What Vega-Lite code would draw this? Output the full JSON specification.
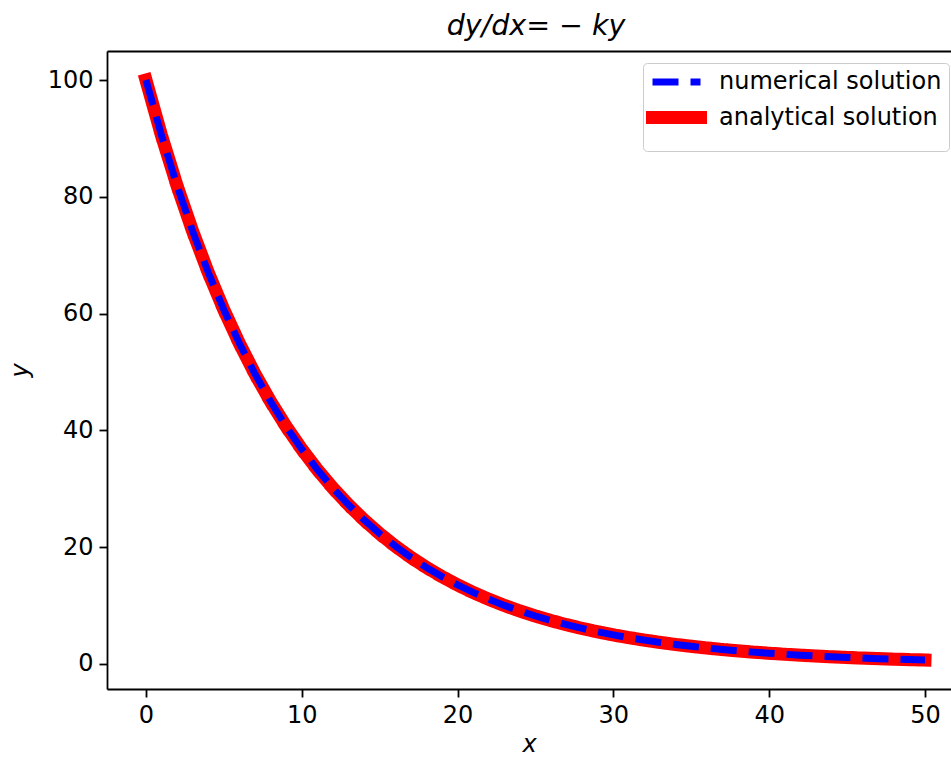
{
  "$schema": "https://vega.github.io/schema/vega-lite/v6.json",
  "width": 844,
  "height": 638,
  "autosize": {"type": "none"},
  "padding": {"left": 107, "top": 51, "right": 0, "bottom": 68},
  "background": "white",
  "config": {
    "view": {"stroke": null},
    "font": "DejaVu Sans",
    "axis": {
      "grid": false,
      "domainColor": "black",
      "domainWidth": 1.8,
      "tickColor": "black",
      "tickWidth": 1.8,
      "tickSize": 8,
      "labelColor": "black",
      "labelFont": "DejaVu Sans",
      "labelFontSize": 24,
      "labelPadding": 6,
      "titleFont": "DejaVu Sans",
      "titleFontSize": 24,
      "titleFontWeight": "normal",
      "titleFontStyle": "italic",
      "titleColor": "black"
    }
  },
  "title": {
    "text": "dy/dx= − ky",
    "font": "DejaVu Sans",
    "fontSize": 28.5,
    "fontStyle": "italic",
    "fontWeight": "normal",
    "color": "black",
    "anchor": "middle",
    "dx": 7,
    "offset": 11
  },
  "data": {
    "values": [
      {"x": 0, "y": 100}, {"x": 1, "y": 90.4837}, {"x": 2, "y": 81.8731}, {"x": 3, "y": 74.0818},
      {"x": 4, "y": 67.032}, {"x": 5, "y": 60.6531}, {"x": 6, "y": 54.8812}, {"x": 7, "y": 49.6585},
      {"x": 8, "y": 44.9329}, {"x": 9, "y": 40.657}, {"x": 10, "y": 36.7879}, {"x": 11, "y": 33.2871},
      {"x": 12, "y": 30.1194}, {"x": 13, "y": 27.2532}, {"x": 14, "y": 24.6597}, {"x": 15, "y": 22.313},
      {"x": 16, "y": 20.1897}, {"x": 17, "y": 18.2684}, {"x": 18, "y": 16.5299}, {"x": 19, "y": 14.9569},
      {"x": 20, "y": 13.5335}, {"x": 21, "y": 12.2456}, {"x": 22, "y": 11.0803}, {"x": 23, "y": 10.0259},
      {"x": 24, "y": 9.0718}, {"x": 25, "y": 8.2085}, {"x": 26, "y": 7.4274}, {"x": 27, "y": 6.7206},
      {"x": 28, "y": 6.081}, {"x": 29, "y": 5.5023}, {"x": 30, "y": 4.9787}, {"x": 31, "y": 4.5049},
      {"x": 32, "y": 4.0762}, {"x": 33, "y": 3.6883}, {"x": 34, "y": 3.3373}, {"x": 35, "y": 3.0197},
      {"x": 36, "y": 2.7324}, {"x": 37, "y": 2.4724}, {"x": 38, "y": 2.2371}, {"x": 39, "y": 2.0242},
      {"x": 40, "y": 1.8316}, {"x": 41, "y": 1.6573}, {"x": 42, "y": 1.4996}, {"x": 43, "y": 1.3569},
      {"x": 44, "y": 1.2277}, {"x": 45, "y": 1.1109}, {"x": 46, "y": 1.0052}, {"x": 47, "y": 0.9095},
      {"x": 48, "y": 0.823}, {"x": 49, "y": 0.7447}, {"x": 50, "y": 0.6738}
    ]
  },
  "resolve": {"axis": {"x": "independent"}},
  "layer": [
    {
      "mark": {"type": "line", "strokeCap": "square", "clip": true},
      "encoding": {
        "x": {
          "field": "x", "type": "quantitative",
          "scale": {"domain": [-2.5, 51.67], "nice": false, "zero": false},
          "axis": {"orient": "bottom", "values": [0, 10, 20, 30, 40, 50], "title": "x", "titlePadding": 5}
        },
        "y": {
          "field": "y", "type": "quantitative",
          "scale": {"domain": [-4.29, 104.97], "nice": false, "zero": false},
          "axis": {"values": [0, 20, 40, 60, 80, 100], "title": "y", "titlePadding": 15}
        },
        "color": {
          "datum": "analytical solution",
          "scale": {"domain": ["numerical solution", "analytical solution"], "range": ["#0000ff", "#ff0000"]},
          "legend": {
            "orient": "none",
            "legendX": 536,
            "legendY": 12,
            "title": null,
            "symbolType": "M-1.5,0L4.5,0",
            "symbolSize": 256,
            "labelOffset": 40,
            "labelFont": "DejaVu Sans",
            "labelFontSize": 24,
            "labelColor": "black",
            "labelLimit": 400,
            "rowPadding": -5,
            "padding": 7,
            "strokeColor": "#cccccc",
            "fillColor": "white",
            "cornerRadius": 4,
            "encode": {
              "symbols": {
                "update": {
                  "strokeCap": {"signal": "datum.value === 'analytical solution' ? 'square' : 'butt'"}
                }
              }
            }
          }
        },
        "strokeDash": {
          "datum": "analytical solution",
          "scale": {"domain": ["numerical solution", "analytical solution"], "range": [[26, 12], [1, 0]]}
        },
        "strokeWidth": {
          "datum": "analytical solution",
          "type": "ordinal",
          "scale": {"domain": ["numerical solution", "analytical solution"], "range": [7, 13]}
        }
      }
    },
    {
      "mark": {"type": "line", "strokeCap": "butt", "clip": true},
      "encoding": {
        "x": {
          "field": "x", "type": "quantitative",
          "axis": {"orient": "top", "labels": false, "ticks": false, "title": null, "domain": true}
        },
        "y": {"field": "y", "type": "quantitative"},
        "color": {"datum": "numerical solution"},
        "strokeDash": {"datum": "numerical solution"},
        "strokeWidth": {"datum": "numerical solution", "type": "ordinal"}
      }
    }
  ]
}
